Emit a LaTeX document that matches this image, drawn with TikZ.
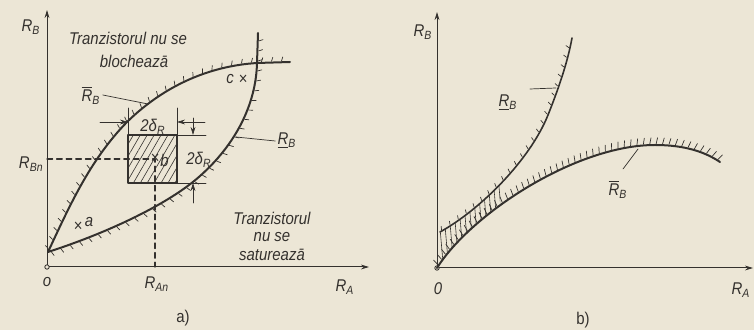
\documentclass[tikz,border=0pt]{standalone}
\usepackage{fontspec}
\setmainfont{Liberation Sans}[FakeStretch=0.88]
\usetikzlibrary{arrows.meta,decorations.markings,patterns.meta}
\definecolor{paper}{RGB}{236,230,214}
\definecolor{ink}{RGB}{52,49,46}
\newcommand{\Rsb}[1]{R\textsubscript{#1}}
\newcommand{\Rlow}{\underline{R}\textsubscript{B}}
\newcommand{\Rup}{$\overline{\mbox{R}}$\textsubscript{B}}
\begin{document}
\begin{tikzpicture}[x=0.5pt,y=-0.5pt,>={Stealth[length=4pt,width=2.4pt]},
	line join=round, line cap=round,
	font=\fontsize{8.5}{10}\selectfont\itshape,
	every node/.style={text=ink, inner sep=1pt},
	axis/.style={draw=ink, line width=0.5pt, ->},
	curve/.style={draw=ink, line width=1pt},
	thin line/.style={draw=ink, line width=0.35pt},
	hatchup/.style 2 args={postaction={decorate,decoration={markings,
		mark=between positions 0.01 and 0.995 step #1 with {\draw[ink,line width=0.35pt] (0,0.6pt)--(0.7pt,#2);}}}},
	hatchdown/.style 2 args={postaction={decorate,decoration={markings,
		mark=between positions 0.01 and 0.995 step #1 with {\draw[ink,line width=0.35pt] (0,-0.6pt)--(0.7pt,-#2);}}}}]
	\path[use as bounding box, fill=paper] (0,0) rectangle (754,330);
	% a)
	\coordinate (oa) at (47,267);
	\draw[axis] (oa) -- (369,267);
	\draw[axis] (oa) -- (47,10);
	\draw[ink, line width=0.4pt, fill=paper] (oa) circle (2.2);
	\node (rba) at (31,27) {\Rsb{B}};
	\node (ra) at (345,287) {\Rsb{A}};
	\node (oal) at (47,282) {o};
	\node[font=\fontsize{8.5}{10}\selectfont] (capa) at (183,318) {a)};
	% curbele
	\draw[curve, hatchup={5pt}{2.6pt}] (48,252) .. controls (70,205) and (90,160) .. (127,122)
		.. controls (165,85) and (210,66) .. (257,63) -- (290,62);
	\draw[curve, hatchdown={5pt}{2.6pt}] (48,252) .. controls (110,232) and (170,203) .. (200,176)
		.. controls (235,145) and (256,105) .. (257,63) -- (258,33);
	% punctul nominal
	\coordinate (b) at (155,159);
	\draw[ink, line width=1pt, pattern={Lines[angle=60,distance=3pt,line width=0.3pt]}, pattern color=ink] (128,135) rectangle (177,183);
	\draw[ink, dashed, dash pattern=on 2.8pt off 2pt, line width=0.6pt] (b -| oa) -- (b) -- (b |- oa);
	\node (xb) at (b) {×};
	\node[right=0pt] (lb) at (158,160) {b};
	\node[left] (rbn) at (46,164) {\Rsb{Bn}};
	\node (ran) at (157,284) {\Rsb{An}};
	% cotele
	\draw[thin line] (128,108) -- (128,135) (177,108) -- (177,135);
	\draw[thin line, ->] (100,122) -- (128,122);
	\draw[thin line, ->] (205,122) -- (177,122);
	\node (dx) at (153,127) {2δ\textsubscript{R}};
	\draw[thin line] (177,135) -- (206,135) (177,183) -- (206,183);
	\draw[thin line, ->] (193,118) -- (193,135);
	\draw[thin line, ->] (193,203) -- (193,183);
	\node (dy) at (199,160) {2δ\textsubscript{R}};
	% etichete
	\node (rup) at (91,95) {\Rup};
	\coordinate (rupc) at (148,104);
	\draw[thin line] (rup.east) -- (rupc);
	\node (rlow) at (287,141) {\Rlow};
	\coordinate (rlowc) at (236,137);
	\draw[thin line] (rlow.west) -- (rlowc);
	\node (pa) at (78,227) {×};
	\node (la) at (89,222) {a};
	\node (lc) at (230,79) {c};
	\node (pc) at (243,80) {×};
	\node (blk1) at (128,38) {Tranzistorul nu se};
	\node (blk2) at (134,61) {blocheazā};
	\node (sat1) at (272,218) {Tranzistorul};
	\node (sat2) at (272,237) {nu se};
	\node (sat3) at (272,255) {satureazā};
	% b)
	\coordinate (ob) at (437,268);
	\draw[axis] (ob) -- (753,268);
	\draw[axis] (ob) -- (437,12);
	\draw[ink, line width=0.4pt, fill=paper] (ob) circle (2.2);
	\node (rbb) at (423,32) {\Rsb{B}};
	\node (rab) at (741,290) {\Rsb{A}};
	\node (obl) at (438,289) {0};
	\node[font=\fontsize{8.5}{10}\selectfont] (capb) at (583,320) {b)};
	\def\upperb{(437,268) .. controls (470,215) and (575,145) .. (655,145) .. controls (685,145) and (705,152) .. (720,162)}
	\def\lowerb{(440,232) .. controls (480,210) and (530,160) .. (548,115) .. controls (560,85) and (568,60) .. (572,38)}
	\begin{scope}
		\clip \upperb -- (720,0) -- (437,0) -- cycle;
		\clip \lowerb -- (754,38) -- (754,330) -- (437,330) -- cycle;
		\fill[pattern={Lines[angle=95,distance=2.6pt,line width=0.3pt]}, pattern color=ink] (437,150) rectangle (500,270);
	\end{scope}
	\draw[curve, hatchup={3.2pt}{3.6pt}] \upperb;
	\draw[curve, line width=0.8pt, hatchup={5pt}{2.2pt}] \lowerb;
	\node (rlowb) at (508,103) {\Rlow};
	\coordinate (rlowbc) at (556,88);
	\draw[thin line] (530,89) -- (rlowbc);
	\node (rupb) at (618,189) {\Rup};
	\coordinate (rupbc) at (638,149);
	\draw[thin line] (623,169) -- (rupbc);
\end{tikzpicture}
\end{document}
